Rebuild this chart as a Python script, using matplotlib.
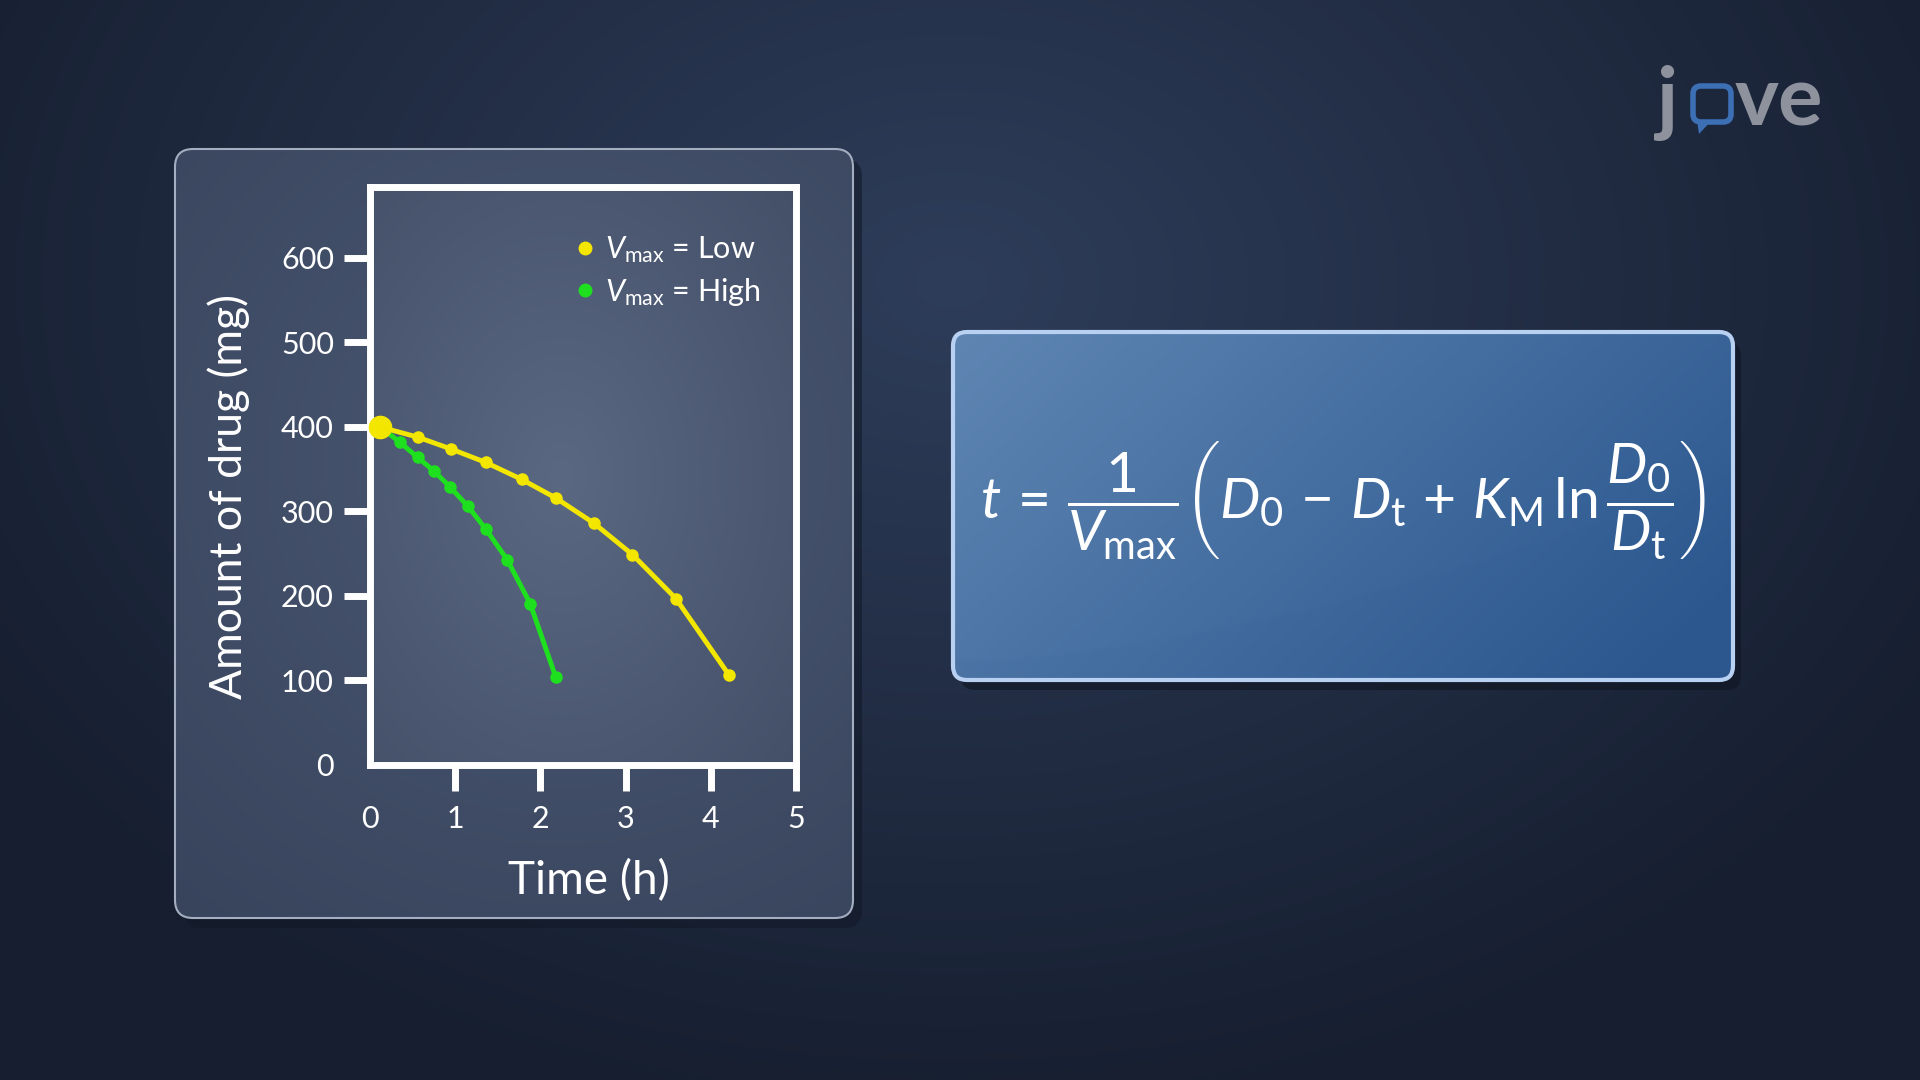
import numpy as np
import matplotlib
matplotlib.use("Agg")
import matplotlib.pyplot as plt
from matplotlib.patches import FancyBboxPatch, Polygon
from matplotlib.lines import Line2D

plt.rcParams['font.family'] = ['Lato', 'DejaVu Sans']
plt.rcParams['mathtext.fontset'] = 'custom'
plt.rcParams['mathtext.rm'] = 'Lato'
plt.rcParams['mathtext.it'] = 'Lato:italic'
plt.rcParams['mathtext.bf'] = 'Lato:bold'

# ---------------- data ----------------
time_low = [0.12, 0.56, 0.95, 1.36, 1.78, 2.18, 2.63, 3.08, 3.59, 4.21]
drug_low = [400, 388, 374, 358, 338, 316, 286, 249, 197, 107]
time_high = [0.12, 0.35, 0.56, 0.75, 0.94, 1.15, 1.36, 1.61, 1.88, 2.18]
drug_high = [400, 382, 364, 348, 329, 306, 279, 243, 191, 104]
x_ticks = [0, 1, 2, 3, 4, 5]
y_ticks = [0, 100, 200, 300, 400, 500, 600]
series_labels = [r'$V_{\mathrm{max}}$ = Low', r'$V_{\mathrm{max}}$ = High']
x_label = 'Time (h)'
y_label = 'Amount of drug (mg)'
equation = (r'$\ t\,=\,\dfrac{1}{V_{\mathrm{max}}}\left(D_{0}\,-\,D_{\mathrm{t}}\,+\,'
            r'K_{\mathrm{M}}\,\mathrm{ln}\,\dfrac{D_{0}}{D_{\mathrm{t}}}\right)\ $')

YELLOW = '#f3e600'
GREEN = '#1ee01e'

W, H = 1920, 1080
fig = plt.figure(figsize=(19.2, 10.8), dpi=100)


def hex2rgb(h):
    h = h.lstrip('#')
    return np.array([int(h[i:i + 2], 16) / 255 for i in (0, 2, 4)])


def mix(c0, c1, t):
    t = np.clip(t, 0, 1)[..., None]
    return hex2rgb(c0) * (1 - t) + hex2rgb(c1) * t


# ---------------- background ----------------
bg = fig.add_axes([0, 0, 1, 1])
bg.set_xlim(0, W)
bg.set_ylim(H, 0)
bg.axis('off')
yy, xx = np.mgrid[0:H:4, 0:W:4].astype(float)
d = np.sqrt(((xx - 950) / 1150) ** 2 + ((yy - 280) / 850) ** 2)
bg.imshow(mix('#2e3d5a', '#161e2f', d), extent=(0, W, H, 0), aspect='auto',
          interpolation='bilinear', zorder=0)

# ---------------- left panel ----------------
px0, py0, pw, ph = 175, 149, 678, 769
bg.add_patch(FancyBboxPatch((px0 + 9, py0 + 10), pw, ph,
                            boxstyle='round,pad=0,rounding_size=18',
                            fc='#111826', ec='none', alpha=0.55, zorder=1))
panel = FancyBboxPatch((px0, py0), pw, ph, boxstyle='round,pad=0,rounding_size=18',
                       fc='none', ec='#a3aec0', lw=1.5, zorder=3)
bg.add_patch(panel)
d = np.sqrt(((xx - 560) / 650) ** 2 + ((yy - 460) / 650) ** 2)
im = bg.imshow(mix('#4b5872', '#36425a', d), extent=(0, W, H, 0), aspect='auto',
               interpolation='bilinear', zorder=2)
im.set_clip_path(panel)

# ---------------- equation box ----------------
ex0, ey0, ew, eh = 953, 332, 780, 348
bg.add_patch(FancyBboxPatch((ex0 + 8, ey0 + 10), ew, eh,
                            boxstyle='round,pad=0,rounding_size=14',
                            fc='#0f1522', ec='none', alpha=0.6, zorder=1))
ebox = FancyBboxPatch((ex0, ey0), ew, eh, boxstyle='round,pad=0,rounding_size=14',
                      fc='none', ec='#b8d0f2', lw=3, zorder=3)
bg.add_patch(ebox)
t = (xx - ex0) / ew * 0.75 + (yy - ey0) / eh * 0.35
eimg = mix('#5f86b3', '#2c588f', t)
curve = ey0 + eh - 20 - 190 * ((xx - ex0) / ew) ** 1.6
below = (yy > curve)[..., None]
eimg = np.where(below, eimg * 0.93 + hex2rgb('#2a548c') * 0.07, eimg)
im2 = bg.imshow(eimg, extent=(0, W, H, 0), aspect='auto', interpolation='bilinear', zorder=2)
im2.set_clip_path(ebox)

bg.text(1336, 500, equation, fontsize=41, color='white', ha='center', va='center', zorder=5)

# ---------------- jove logo ----------------
GRAY = '#8d929d'
BLUE = '#3d6fb5'
bg.text(1657, 126, 'j', fontsize=60, fontweight='bold', color=GRAY, ha='left',
        va='baseline', zorder=5)
bg.add_patch(FancyBboxPatch((1693, 86), 38, 36, boxstyle='round,pad=0,rounding_size=8',
                            fc='none', ec=BLUE, lw=4, zorder=5))
bg.add_patch(Polygon([(1697, 120), (1712, 120), (1699, 134)], closed=True,
                     fc=BLUE, ec='none', zorder=5))
bg.text(1735, 126, 've', fontsize=60, fontweight='bold', color=GRAY, ha='left',
        va='baseline', zorder=5)

# ---------------- chart axes ----------------
ax = fig.add_axes([370 / W, 1 - 765 / H, 426 / W, 578 / H])
ax.set_xlim(0, 5)
ax.set_ylim(0, 684)
ax.set_facecolor('none')
gy, gx = np.mgrid[0:1:200j, 0:1:200j]
d = np.sqrt(((gx - 0.45) / 0.75) ** 2 + ((gy - 0.5) / 0.75) ** 2)
ax.imshow(mix('#5a6881', '#444f68', d), extent=(0, 5, 0, 684), aspect='auto',
          interpolation='bilinear', zorder=0)

ax.plot(time_high, drug_high, color=GREEN, lw=3.5, marker='o', ms=8, zorder=3,
        solid_capstyle='round', solid_joinstyle='round')
ax.plot(time_low, drug_low, color=YELLOW, lw=3.5, marker='o', ms=8, zorder=4,
        solid_capstyle='round', solid_joinstyle='round')
ax.plot(time_low[:1], drug_low[:1], color=YELLOW, marker='o', ms=16, ls='none',
        zorder=5, clip_on=False)

for s in ax.spines.values():
    s.set_color('white')
    s.set_linewidth(5)
    s.set_capstyle('projecting')

ax.set_xticks(x_ticks)
ax.set_yticks(y_ticks)
ax.tick_params(axis='both', length=19, width=5, color='white', labelcolor='white',
               labelsize=22, direction='out')
ax.tick_params(axis='y', pad=7)
ax.tick_params(axis='x', pad=10)
ax.xaxis.get_major_ticks()[0].tick1line.set_visible(False)
ax.yaxis.get_major_ticks()[0].tick1line.set_visible(False)

ax.set_xlabel(x_label, fontsize=33, color='white')
ax.xaxis.set_label_coords(0.514, -0.2)
ax.xaxis.label.set_va('center')
ax.set_ylabel(y_label, fontsize=32, color='white')
ax.yaxis.set_label_coords(-0.331, 0.465)
ax.yaxis.label.set_va('center')

handles = [Line2D([], [], color=YELLOW, marker='o', ls='none', ms=9),
           Line2D([], [], color=GREEN, marker='o', ls='none', ms=9)]
leg = ax.legend(handles, series_labels, loc='upper left', bbox_to_anchor=(0.48, 0.918),
                frameon=False, fontsize=22, labelcolor='white', handlelength=0.7,
                handletextpad=0.3, borderpad=0, borderaxespad=0, labelspacing=0.35)

fig.savefig('out.png', dpi=100)
